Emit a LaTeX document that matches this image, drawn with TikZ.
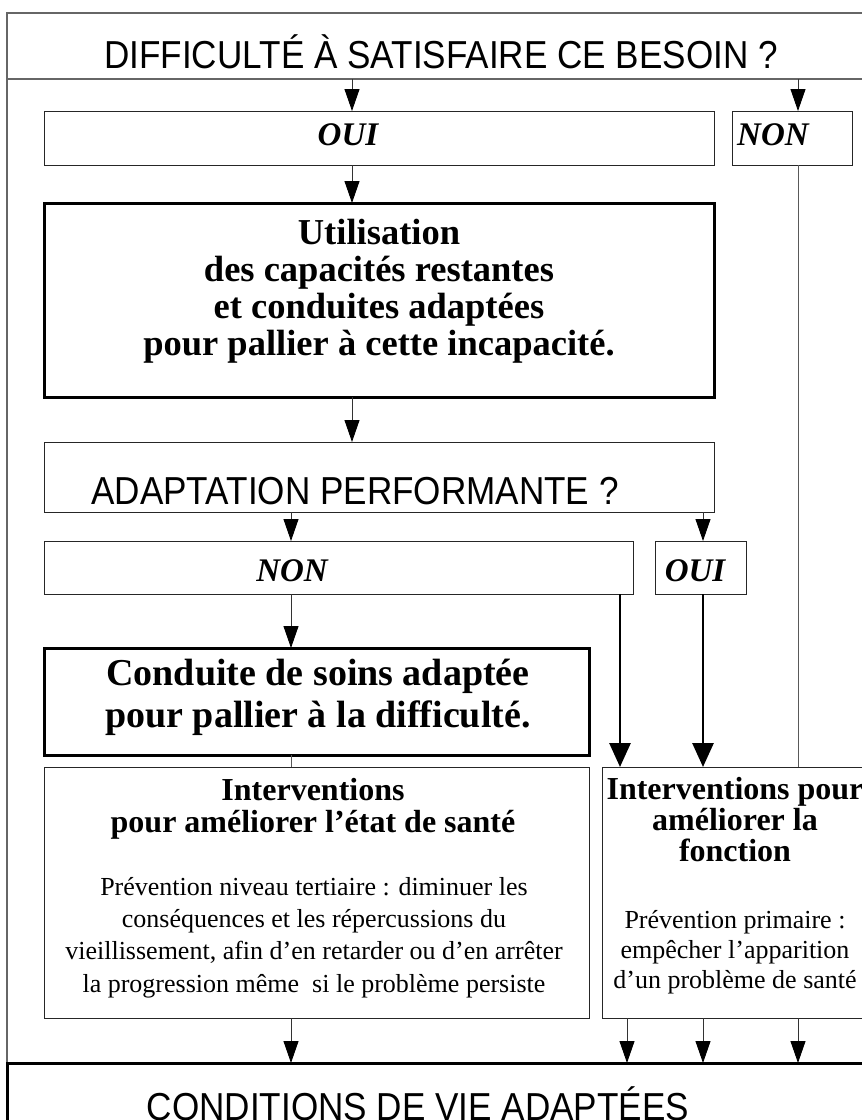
\documentclass[tikz,border=0pt]{standalone}
\usepackage{fontspec}
\setmainfont{Liberation Serif}
\newfontfamily\sansf{Liberation Sans}[FakeStretch=0.9]
\usetikzlibrary{arrows.meta}

\tikzset{
  boite/.style={draw=black!85, line width=1pt, inner sep=0pt, outer sep=0pt},
  grosboite/.style={boite, draw=black, line width=3pt},
  cadre/.style={draw=black!60, line width=1.4pt},
  fleche/.style={draw=black!80, line width=0.9pt, -{Triangle[length=22pt,width=15pt,black]}},
  grossefleche/.style={draw=black, line width=2.8pt, -{Triangle[length=24pt,width=21pt]}},
  trait/.style={draw=black!65, line width=0.9pt},
  question/.style={anchor=base, inner sep=0pt, font=\sansf\fontsize{39}{39}\selectfont},
  reponse/.style={anchor=base, inner sep=0pt, font=\bfseries\itshape\fontsize{33}{33}\selectfont},
  texte/.style={anchor=base, inner sep=0pt, align=center}
}

\begin{document}
\begin{tikzpicture}[x=1pt,y=-1pt]
\path[use as bounding box] (0,0) rectangle (862,1120);
\clip (0,0) rectangle (862,1120);

%colonnes des fleches
\coordinate (c1) at (291,0);
\coordinate (c2) at (352,0);
\coordinate (c3) at (620,0);
\coordinate (c4) at (627,0);
\coordinate (c5) at (703,0);
\coordinate (c6) at (798,0);

%Cadre
\draw [cadre] (7,13) rectangle (876,1063);

%Question 1
\node [boite, draw=black!60, line width=1.4pt, minimum width=869pt, minimum height=66pt] (titre) at (441.5,46) {};
\node [question] (titre-txt) at (441,68) {DIFFICULTÉ À SATISFAIRE CE BESOIN ?};

\node [boite, minimum width=670pt, minimum height=54pt] (oui1) at (379,138) {};
\node [reponse] (oui1-txt) at (348,145) {OUI};
\node [boite, minimum width=120pt, minimum height=54pt] (non1) at (792,138) {};
\node [reponse, anchor=base west] (non1-txt) at (737,145) {NON};

\node [grosboite, minimum width=670pt, minimum height=194pt] (util) at (379,300) {};
\node [texte, font=\bfseries\fontsize{36.5}{36.7}\selectfont] (util-txt) at (379,355)
  {Utilisation\\des capacités restantes\\et conduites adaptées\\pour pallier à cette incapacité.};

%Question 2
\node [boite, minimum width=670pt, minimum height=70pt] (adapt) at (379,477) {};
\node [question] (adapt-txt) at (355,504) {ADAPTATION PERFORMANTE ?};

\node [boite, minimum width=589pt, minimum height=53pt] (non2) at (338.5,567.5) {};
\node [reponse] (non2-txt) at (292,581) {NON};
\node [boite, minimum width=91pt, minimum height=53pt] (oui2) at (700.5,567.5) {};
\node [reponse] (oui2-txt) at (695,581) {OUI};

\node [grosboite, minimum width=545pt, minimum height=107pt] (soins) at (316.5,701.5) {};
\node [texte, font=\bfseries\fontsize{38}{42}\selectfont] (soins-txt) at (318,727)
  {Conduite de soins adaptée\\pour pallier à la difficulté.};

%Interventions
\node [boite, minimum width=545pt, minimum height=251pt] (intg) at (316.5,892.5) {};
\node [texte, font=\bfseries\fontsize{32}{32}\selectfont] (intg-titre) at (313,832)
  {Interventions\\pour améliorer l’état de santé};
\node [texte, font=\fontsize{26}{32.3}\selectfont] (intg-txt) at (314,992)
  {Prévention niveau tertiaire : diminuer les\\conséquences et les répercussions du\\vieillissement, afin d’en retarder ou d’en arrêter\\la progression même~ si le problème persiste};

\node [boite, minimum width=268pt, minimum height=251pt] (intd) at (736,892.5) {};
\node [texte, font=\bfseries\fontsize{32}{31}\selectfont] (intd-titre) at (735,861)
  {Interventions pour\\améliorer la\\fonction};
\node [texte, font=\fontsize{26}{30}\selectfont] (intd-txt) at (735,988)
  {Prévention primaire :\\empêcher l’apparition\\d’un problème de santé};

%Conclusion
\node [grosboite, minimum width=869pt, minimum height=80pt] (concl) at (441.5,1103) {};
\node [question] (concl-txt) at (418,1120) {CONDITIONS DE VIE ADAPTÉES};

%Fleches
\draw [fleche] (titre.south -| c2) -- (oui1.north -| c2);
\draw [fleche] (titre.south -| c6) -- (non1.north -| c6);
\draw [fleche] (oui1.south -| c2) -- (util.north -| c2);
\draw [fleche] (util.south -| c2) -- (adapt.north -| c2);
\draw [fleche] (adapt.south -| c1) -- (non2.north -| c1);
\draw [fleche] (adapt.south -| c5) -- (oui2.north -| c5);
\draw [fleche] (non2.south -| c1) -- (soins.north -| c1);
\draw [trait] (soins.south -| c1) -- (intg.north -| c1);
\draw [trait] (non1.south -| c6) -- (intd.north -| c6);
\draw [grossefleche] (non2.south -| c3) -- (intd.north -| c3);
\draw [grossefleche] (oui2.south -| c5) -- (intd.north -| c5);
\draw [fleche] (intg.south -| c1) -- (concl.north -| c1);
\draw [fleche] (intd.south -| c4) -- (concl.north -| c4);
\draw [fleche] (intd.south -| c5) -- (concl.north -| c5);
\draw [fleche] (intd.south -| c6) -- (concl.north -| c6);
\end{tikzpicture}
\end{document}
